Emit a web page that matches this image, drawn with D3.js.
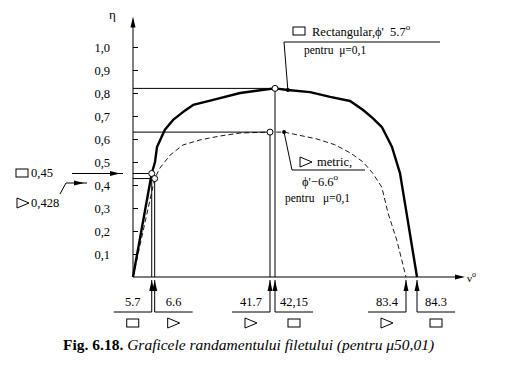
<!DOCTYPE html>
<html>
<head>
<meta charset="utf-8">
<script src="https://cdn.jsdelivr.net/npm/d3@7"></script>
<style>
  body { margin: 0; background: #fff; }
  svg { display: block; }
</style>
</head>
<body>
<script>
// thread efficiency curves, eta vs helix angle (deg)
const rectAngle = [0, 5.7, 6.7, 7.3, 9.7, 12.2, 15.2, 18.3, 24.4, 32.6, 38.7, 42.15, 46.2, 53.2, 59.5, 65.8, 69.9, 73.0, 75.8, 79.0, 81.5, 83.4, 84.3];
const rectEta   = [0, 0.45, 0.50, 0.565, 0.64, 0.683, 0.717, 0.748, 0.77, 0.80, 0.812, 0.82, 0.813, 0.804, 0.783, 0.765, 0.726, 0.69, 0.652, 0.565, 0.452, 0.293, 0];

const metricAngle = [0, 6.6, 8.2, 11.3, 15.2, 20.4, 26.5, 32.6, 41.7, 45.0, 55.4, 61.0, 65.8, 69.9, 73.0, 75.8, 77.7, 80.5, 83.4];
const metricEta   = [0, 0.428, 0.474, 0.53, 0.574, 0.596, 0.613, 0.626, 0.63, 0.63, 0.60, 0.575, 0.54, 0.50, 0.45, 0.39, 0.28, 0.16, 0];

const yTicks = [0.1, 0.2, 0.3, 0.4, 0.5, 0.6, 0.7, 0.8, 0.9, 1.0];
const yTickLabels = ["0,1", "0,2", "0,3", "0,4", "0,5", "0,6", "0,7", "0,8", "0,9", "1,0"];

// key points: start of the curve, maximum
const keyAngle = [5.7, 6.6, 41.7, 42.15];
const keyEta   = [0.45, 0.428, 0.63, 0.82];

// labels under the x axis
const markAngle = [5.7, 6.6, 41.7, 42.15, 83.4, 84.3];
const markLabel = ["5.7", "6.6", "41.7", "42,15", "83.4", "84.3"];
const markShape = ["rect", "tri", "tri", "rect", "tri", "rect"];
const markSide  = [-1, 1, -1, 1, -1, 1];

const FONT = '"Liberation Serif", "Times New Roman", serif';
const W = 508, H = 373;
const svg = d3.select("body").append("svg").attr("width", W).attr("height", H);
svg.append("rect").attr("width", W).attr("height", H).attr("fill", "#fff");

// schematic axis: the figure spreads the close pairs of angles apart
const x = d3.scaleLinear().domain([0, 41.7, 42.15, 83.4, 84.3, 98]).range([133, 270, 275, 406, 417, 463]);
const y = d3.scaleLinear().domain([0, 1]).range([277, 47]);
const x0 = x(0), y0 = y(0);

const tri = (cx, cy, w, h, dir) => {
    // dir: 'r' right, 'u' up
    if (dir === 'r') return `M${cx - w / 2},${cy - h / 2}L${cx + w / 2},${cy}L${cx - w / 2},${cy + h / 2}Z`;
    return `M${cx},${cy - h / 2}L${cx + w / 2},${cy + h / 2}L${cx - w / 2},${cy + h / 2}Z`;
};

const symbol = (g, shape, cx, cy) => {
    if (shape === 'rect') {
        g.append('rect').attr('x', cx - 6).attr('y', cy - 4).attr('width', 12).attr('height', 8)
            .attr('fill', 'none').attr('stroke', '#000').attr('stroke-width', 1);
    } else {
        g.append('path').attr('d', `M${cx - 6},${cy - 5}L${cx + 6},${cy}L${cx - 6},${cy + 5}M${cx - 6},${cy - 5}L${cx - 6},${cy + 5}`)
            .attr('fill', 'none').attr('stroke', '#000').attr('stroke-width', 1);
    }
};

// y axis
const yAxis = svg.append('g')
    .attr('transform', `translate(${x0},0)`)
    .call(d3.axisLeft(y).tickValues(yTicks).tickSizeInner(-5).tickSizeOuter(0).tickPadding(23)
        .tickFormat((d, i) => yTickLabels[i]));
yAxis.select('.domain').remove();
yAxis.selectAll('line').attr('stroke', '#000');
yAxis.selectAll('text').attr('font-size', 12.5).attr('fill', '#000');

svg.append('line').attr('x1', x0).attr('x2', x0).attr('y1', y0).attr('y2', 20).attr('stroke', '#000');
svg.append('path').attr('d', tri(x0, 22, 5, 11, 'u')).attr('fill', '#000');
svg.append('text').attr('x', 109).attr('y', 19).attr('font-size', 13).text('η');

// x axis
svg.append('line').attr('x1', x0).attr('x2', 462).attr('y1', y0).attr('y2', y0).attr('stroke', '#000');
svg.append('path').attr('d', `M455,${y0 - 2.5}L465,${y0}L455,${y0 + 2.5}Z`).attr('fill', '#000');
const xl = svg.append('text').attr('x', 467).attr('y', 282).attr('font-size', 11).text('ν');
xl.append('tspan').attr('dy', -5).attr('font-size', 8).text('o');

// guide lines from the key points to both axes
keyAngle.forEach((a, i) => {
    svg.append('line').attr('x1', x0).attr('x2', x(a)).attr('y1', y(keyEta[i])).attr('y2', y(keyEta[i]))
        .attr('stroke', '#000').attr('stroke-width', 1);
    svg.append('line').attr('x1', x(a)).attr('x2', x(a)).attr('y1', y(keyEta[i])).attr('y2', y0)
        .attr('stroke', '#000').attr('stroke-width', 1);
});

// curves
const line = d3.line().x(d => x(d[0])).y(d => y(d[1]));
svg.append('path')
    .datum(d3.zip(metricAngle, metricEta))
    .attr('fill', 'none').attr('stroke', '#000').attr('stroke-width', 0.9)
    .attr('stroke-dasharray', '5,3')
    .attr('d', line);
svg.append('path')
    .datum(d3.zip(rectAngle, rectEta))
    .attr('fill', 'none').attr('stroke', '#000').attr('stroke-width', 2.4)
    .attr('stroke-linejoin', 'round')
    .attr('d', line);

svg.append('g').selectAll('circle')
    .data(keyAngle)
    .join('circle')
    .attr('cx', d => x(d))
    .attr('cy', (d, i) => y(keyEta[i]))
    .attr('r', 3)
    .attr('fill', '#fff').attr('stroke', '#000').attr('stroke-width', 1);

// rectangular thread label
svg.append('circle').attr('cx', x(46.2)).attr('cy', y(0.813)).attr('r', 2).attr('fill', '#000');
svg.append('path').attr('d', `M${x(46.2)},${y(0.813)}L284,42L440,42`).attr('fill', 'none').attr('stroke', '#000');
const g1 = svg.append('g');
symbol(g1, 'rect', 299, 31);
const t1 = g1.append('text').attr('x', 312).attr('y', 36).attr('font-size', 12.5).text("Rectangular,ϕ'\u00a0\u00a05.7");
t1.append('tspan').attr('dy', -6).attr('font-size', 9).text('o');
g1.append('text').attr('x', 304).attr('y', 54).attr('font-size', 11.5).text('pentru\u00a0\u00a0μ=0,1');

// metric thread label
svg.append('circle').attr('cx', x(45.0)).attr('cy', y(0.63)).attr('r', 2).attr('fill', '#000');
svg.append('path').attr('d', `M${x(45.0)},${y(0.63)}L292,170L365,170`).attr('fill', 'none').attr('stroke', '#000');
const g2 = svg.append('g');
symbol(g2, 'tri', 306, 162);
g2.append('text').attr('x', 317).attr('y', 166).attr('font-size', 12.5).text('metric,');
const t2 = g2.append('text').attr('x', 302).attr('y', 186).attr('font-size', 12.5).text("ϕ'−6.6");
t2.append('tspan').attr('dy', -6).attr('font-size', 9).text('o');
g2.append('text').attr('x', 285).attr('y', 202).attr('font-size', 11.5).text('pentru\u00a0\u00a0\u00a0μ=0,1');

// left labels for eta at the start points
const g3 = svg.append('g');
symbol(g3, 'rect', 22, 173);
g3.append('text').attr('x', 31).attr('y', 177).attr('font-size', 12.5).text('0,45');
g3.append('line').attr('x1', 72).attr('x2', 123).attr('y1', y(0.45)).attr('y2', y(0.45)).attr('stroke', '#000');
g3.append('path').attr('d', `M110,${y(0.45) - 2.5}L120,${y(0.45)}L110,${y(0.45) + 2.5}Z`).attr('fill', '#000');
symbol(g3, 'tri', 23, 203);
g3.append('text').attr('x', 31).attr('y', 207).attr('font-size', 12.5).text('0,428');
g3.append('path').attr('d', 'M60,194L66,183L87,183').attr('fill', 'none').attr('stroke', '#000');
g3.append('path').attr('d', 'M74,180.5L84,183L74,185.5Z').attr('fill', '#000');

// angle labels under the x axis
const marks = svg.append('g');
markAngle.forEach((a, i) => {
    const px = x(a), s = markSide[i], len = 38;
    const mid = px + s * len / 2;
    marks.append('path').attr('d', tri(px, 285.5, 5, 11, 'u')).attr('fill', '#000');
    marks.append('path').attr('d', `M${px},${y0 + 3}L${px},312L${px + s * len},312`)
        .attr('fill', 'none').attr('stroke', '#000');
    marks.append('text').attr('x', mid).attr('y', 306).attr('text-anchor', 'middle')
        .attr('font-size', 12.5).text(markLabel[i]);
    symbol(marks, markShape[i], mid, 323);
});

// caption
const cap = svg.append('text').attr('x', 63).attr('y', 350).attr('font-size', 15.5);
cap.append('tspan').attr('font-weight', 'bold').text('Fig. 6.18.');
cap.append('tspan').attr('font-style', 'italic').text(' Graficele randamentului filetului (pentru μ50,01)');

svg.selectAll('text').style('font-family', FONT).attr('fill', '#000');
</script>
</body>
</html>
